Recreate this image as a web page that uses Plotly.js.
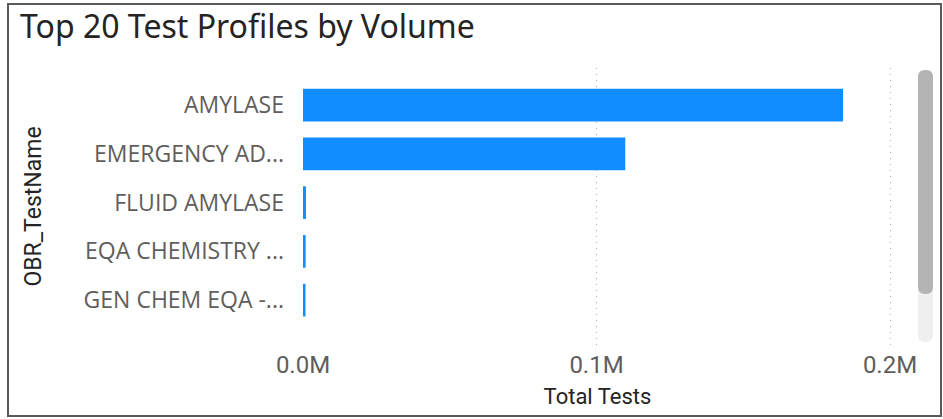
<!DOCTYPE html>
<html>
<head>
<meta charset="utf-8">
<script src="https://cdn.plot.ly/plotly-3.0.1.min.js"></script>
<style>
  html, body { margin: 0; padding: 0; background: #ffffff; }
  #chart { width: 943px; height: 419px; }
</style>
</head>
<body>
<div id="chart"></div>
<script>
// ---- data ----
const categories = ["AMYLASE", "EMERGENCY AD...", "FLUID AMYLASE", "EQA CHEMISTRY ...", "GEN CHEM EQA -..."];
const totalTests = [184000, 109800, 1000, 900, 850];
const xTickVals = [0, 100000, 200000];
const xTickText = ["0.0M", "0.1M", "0.2M"];

// ---- layout geometry (pixels) ----
const W = 943, H = 419;
const L = 302, R = 893, T = 68, B = 345;
const X0 = 303;               // pixel where x = 0 sits
const unit = 200000 / 587;    // data units per pixel
const pw = R - L, ph = B - T;
const px = x => (x - L) / pw;
const py = y => (B - y) / ph;

function roundRect(x0, y0, x1, y1, r) {
  const p = (x, y) => px(x).toFixed(5) + "," + py(y).toFixed(5);
  return "M" + p(x0 + r, y0) + " L" + p(x1 - r, y0) + " Q" + p(x1, y0) + " " + p(x1, y0 + r) +
         " L" + p(x1, y1 - r) + " Q" + p(x1, y1) + " " + p(x1 - r, y1) +
         " L" + p(x0 + r, y1) + " Q" + p(x0, y1) + " " + p(x0, y1 - r) +
         " L" + p(x0, y0 + r) + " Q" + p(x0, y0) + " " + p(x0 + r, y0) + " Z";
}

const trace = {
  type: "bar",
  orientation: "h",
  y: categories,
  x: totalTests,
  marker: { color: "#118DFF" },
  hoverinfo: "x+y"
};

const layout = {
  width: W, height: H,
  margin: { l: L, r: W - R, t: T, b: H - B, pad: 0 },
  paper_bgcolor: "#ffffff",
  plot_bgcolor: "#ffffff",
  showlegend: false,
  bargap: 0.33,
  title: {
    text: "Top 20 Test Profiles by Volume",
    font: { family: "'Noto Sans', sans-serif", size: 32, color: "#252423" },
    xref: "container", yref: "container",
    x: 20 / W, xanchor: "left",
    y: 1 - 27 / H, yanchor: "middle"
  },
  xaxis: {
    range: [-(X0 - L) * unit, (R - X0) * unit],
    tickvals: xTickVals,
    ticktext: xTickText,
    showgrid: true,
    gridcolor: "#b0b0b0",
    griddash: "1px,5px",
    gridwidth: 1,
    zeroline: false,
    showline: false,
    ticks: "",
    ticklabelstandoff: 3,
    tickfont: { family: "Roboto, sans-serif", size: 24, color: "#605E5C" },
    title: {
      text: "Total Tests",
      font: { family: "Roboto, sans-serif", size: 22, color: "#252423" },
      standoff: 10
    },
    automargin: false,
    fixedrange: true
  },
  yaxis: {
    type: "category",
    range: [4.92, -0.76],
    showgrid: false,
    zeroline: false,
    showline: false,
    ticks: "",
    ticklabelstandoff: 17,
    tickfont: { family: "'Open Sans', 'Noto Sans', sans-serif", size: 23, color: "#605E5C" },
    title: {
      text: "OBR_TestName",
      font: { family: "Roboto, sans-serif", size: 23, color: "#252423" },
      standoff: 35
    },
    automargin: false,
    fixedrange: true
  },
  shapes: [
    { type: "rect", xref: "paper", yref: "paper",
      x0: px(8), x1: px(941), y0: py(416), y1: py(4),
      line: { color: "#5a5a5a", width: 2 }, fillcolor: "rgba(0,0,0,0)", layer: "above" },
    { type: "path", xref: "paper", yref: "paper",
      path: roundRect(918, 70, 933, 342, 7),
      fillcolor: "#efefef", line: { width: 0 }, layer: "above" },
    { type: "path", xref: "paper", yref: "paper",
      path: roundRect(918, 70, 933, 294, 7),
      fillcolor: "#b4b4b4", line: { width: 0 }, layer: "above" }
  ]
};

Plotly.newPlot("chart", [trace], layout, { displayModeBar: false, staticPlot: true });
</script>
</body>
</html>
